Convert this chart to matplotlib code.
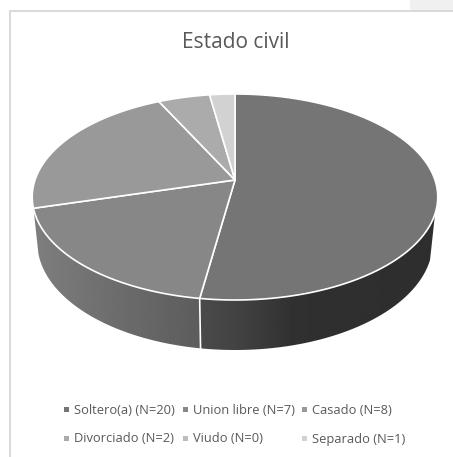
import numpy as np
import matplotlib
matplotlib.use("Agg")
import matplotlib.pyplot as plt
from matplotlib.patches import Polygon, Rectangle

categories = ['Soltero(a) (N=20)', 'Union libre (N=7)', 'Casado (N=8)',
              'Divorciado (N=2)', 'Viudo (N=0)', 'Separado (N=1)']
counts = [20, 7, 8, 2, 0, 1]
top_colors = ['#757575', '#878787', '#999999', '#ababab', '#bdbdbd', '#d2d2d2']
title = 'Estado civil'

plt.rcParams['font.family'] = ['Open Sans', 'DejaVu Sans']

W, H = 453, 457
fig = plt.figure(figsize=(W / 100, H / 100), dpi=100)
ax = fig.add_axes([0, 0, 1, 1])

# pie centre and perspective of the tilted disc
cx, cy = 235, 180
rx, ry, k = 200, 100.2, 0.165
warp = -3.0
sx, sy, drop = 0.975, 1.045, 44.6


def project(theta):
    # theta is clockwise from twelve o'clock, in degrees
    t = np.radians(theta + warp * np.sin(np.radians(2 * theta)))
    u, v = np.sin(t), np.cos(t)
    return cx + rx * u / (1 + k * v), cy - ry * v / (1 + k * v)


def lower(x, y):
    return cx + (x - cx) * sx, cy + (y - cy) * sy + drop


def wall(a, b, gx, gc):
    # side wall between two angles, shaded left to right
    th = np.linspace(a, b, 200)
    x, y = project(th)
    xl, yl = lower(x, y)
    pts = np.column_stack([np.r_[x, xl[::-1]], np.r_[y, yl[::-1]]])
    clip = Polygon(pts, closed=True, facecolor='none', edgecolor='none')
    ax.add_patch(clip)
    xs = np.arange(0, W + 1)
    grad = np.interp(xs, gx, gc).reshape(1, -1)
    im = ax.imshow(grad, extent=(0, W, H, 0), aspect='auto', cmap='gray',
                   vmin=0, vmax=255, zorder=2)
    im.set_clip_path(clip)


# chart frame
ax.plot([9.5, 9.5], [10.5, H], color='#d9d9d9', lw=1.4)
ax.plot([9.5, W], [10.5, 10.5], color='#d9d9d9', lw=1.4)
ax.add_patch(Rectangle((410, 0), W - 410, 10, color='#f0f0f0', lw=0))

edges = np.cumsum([0] + counts) / sum(counts) * 360

wall(107, edges[1], [203, 240, 295, 440], [0x4a, 0x42, 0x30, 0x2e])
wall(edges[1], edges[2], [35, 120, 203], [0x7e, 0x6c, 0x5c])

# white divider between the two front walls
xe, ye = project(edges[1])
xf, yf = lower(xe, ye)
ax.plot([xe, xf], [ye, yf], color='white', lw=1.2, zorder=3)

# top face
for i in range(len(counts)):
    if counts[i] == 0:
        continue
    th = np.linspace(edges[i], edges[i + 1], 120)
    x, y = project(th)
    pts = np.column_stack([np.r_[cx, x], np.r_[cy, y]])
    ax.add_patch(Polygon(pts, closed=True, facecolor=top_colors[i],
                         edgecolor='white', lw=1.2, joinstyle='round', zorder=4))

ax.text(236, 42, title, ha='center', va='center', fontsize=15, color='#595959')

# legend in two rows of three
col_x = [64, 183, 302]
row_y = [409, 438]
for i, (name, c) in enumerate(zip(categories, top_colors)):
    r, q = divmod(i, 3)
    x, y = col_x[q], row_y[r]
    ax.add_patch(Rectangle((x, y - 2), 4.5, 4.5, color=c, lw=0))
    ax.text(x + 10, y + 4.5, name, ha='left', va='baseline', fontsize=9.3, color='#595959')

ax.set_xlim(0, W)
ax.set_ylim(H, 0)
ax.axis('off')

fig.savefig('out.png', dpi=100)
